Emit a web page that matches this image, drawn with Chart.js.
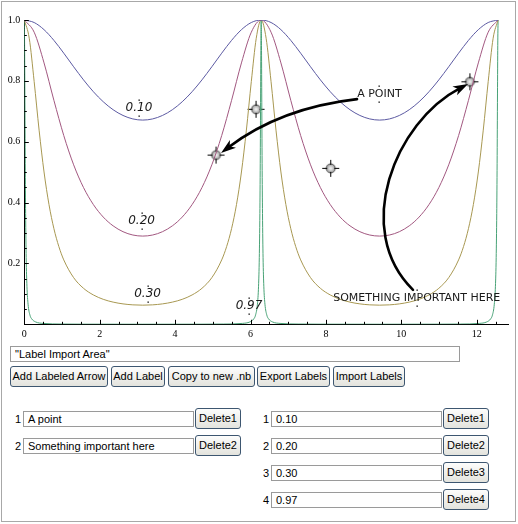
<!DOCTYPE html>
<html>
<head>
<meta charset="utf-8">
<script src="https://cdn.jsdelivr.net/npm/chart.js@4.4.1/dist/chart.umd.min.js"></script>
<style>
body { margin: 0; background: #fff; }
#wrap { position: relative; width: 518px; height: 524px; overflow: hidden; font-family: "Liberation Sans", Arial, sans-serif; font-size: 11px; color: #000; }
#frame { position: absolute; left: 1px; top: 1px; width: 513px; height: 519px; border: 1px solid #a8a8a8; pointer-events: none; }
#plot { position: absolute; left: 0; top: 0; }
.box { position: absolute; box-sizing: border-box; border: 1px solid #9a9a9a; background: #fff; padding-left: 4px; line-height: 14px; white-space: nowrap; overflow: hidden; }
.btn { position: absolute; box-sizing: border-box; border: 1px solid #3d5670; border-radius: 3px; background: linear-gradient(#fdfdfc, #e3e3dd); text-align: center; line-height: 19px; white-space: nowrap; }
.num { position: absolute; width: 10px; text-align: right; line-height: 16px; }
</style>
</head>
<body>
<div id="wrap">
  <canvas id="plot" width="518" height="345"></canvas>
  <div id="ui"></div>
  <div id="frame"></div>
</div>
<script>
// axis ticks
var xTicks = [0, 2, 4, 6, 8, 10, 12];
var yTicks = [0.2, 0.4, 0.6, 0.8, 1.0];

// curves
var curveNames = ['0.10', '0.20', '0.30', '0.97'];
var curveColors = ['rgb(92,90,162)', 'rgb(162,88,128)', 'rgb(168,152,82)', 'rgb(72,162,118)'];

var xSmooth = [0, 0.2618, 0.5236, 0.7854, 1.0472, 1.3090, 1.5708, 1.8326, 2.0944, 2.3562, 2.6180, 2.8798,
  3.1416, 3.4034, 3.6652, 3.9270, 4.1888, 4.4506, 4.7124, 4.9742, 5.2360, 5.4978, 5.7596, 6.0214,
  6.2832, 6.5450, 6.8068, 7.0686, 7.3304, 7.5922, 7.8540, 8.1158, 8.3776, 8.6394, 8.9012, 9.1630,
  9.4248, 9.6866, 9.9484, 10.2102, 10.4720, 10.7338, 10.9956, 11.2574, 11.5192, 11.7810, 12.0428, 12.3046, 12.5664];

var y010 = [1, .9917, .9682, .9330, .8909, .8463, .8032, .7643, .7313, .7051, .6863, .6749,
  .6711, .6749, .6863, .7051, .7313, .7643, .8032, .8463, .8909, .9330, .9682, .9917,
  1, .9917, .9682, .9330, .8909, .8463, .8032, .7643, .7313, .7051, .6863, .6749,
  .6711, .6749, .6863, .7051, .7313, .7643, .8032, .8463, .8909, .9330, .9682, .9917, 1];

var y020 = [1, .9599, .8590, .7359, .6202, .5241, .4494, .3934, .3524, .3235, .3043, .2934,
  .2899, .2934, .3043, .3235, .3524, .3934, .4494, .5241, .6202, .7359, .8590, .9599,
  1, .9599, .8590, .7359, .6202, .5241, .4494, .3934, .3524, .3235, .3043, .2934,
  .2899, .2934, .3043, .3235, .3524, .3934, .4494, .5241, .6202, .7359, .8590, .9599, 1];

var x030 = [0, 0.1309, 0.2618, 0.3927, 0.5236, 0.6545, 0.7854, 0.9163, 1.0472, 1.3090, 1.5708, 1.8326,
  2.0944, 2.3562, 2.6180, 2.8798, 3.1416, 3.4034, 3.6652, 3.9270, 4.1888, 4.4506, 4.7124, 4.9742,
  5.2360, 5.3669, 5.4978, 5.6287, 5.7596, 5.8905, 6.0214, 6.1523, 6.2832,
  6.4141, 6.5450, 6.6759, 6.8068, 6.9377, 7.0686, 7.1995, 7.3304, 7.5922, 7.8540, 8.1158, 8.3776,
  8.6394, 8.9012, 9.1630, 9.4248, 9.6866, 9.9484, 10.2102, 10.4720, 10.7338, 10.9956, 11.2574,
  11.5192, 11.6501, 11.7810, 11.9119, 12.0428, 12.1737, 12.3046, 12.4355, 12.5664];

var y030 = [1, .9401, .7975, .6381, .5005, .3938, .3143, .2554, .2116, .1533, .1183, .0964,
  .0821, .0729, .0671, .0639, .0629, .0639, .0671, .0729, .0821, .0964, .1183, .1533,
  .2116, .2554, .3143, .3938, .5005, .6381, .7975, .9401, 1,
  .9401, .7975, .6381, .5005, .3938, .3143, .2554, .2116, .1533, .1183, .0964, .0821,
  .0729, .0671, .0639, .0629, .0639, .0671, .0729, .0821, .0964, .1183, .1533, .2116,
  .2554, .3143, .3938, .5005, .6381, .7975, .9401, 1];

var x097 = [0, .008, .015, .025, .035, .05, .07, .1, .15, .2, .3, .5, 1.0, 1.5708, 3.1416,
  4.7124, 5.2832, 5.7832, 5.9832, 6.0832, 6.1332, 6.1832, 6.2132, 6.2332, 6.2482, 6.2582, 6.2682, 6.2752,
  6.2832,
  6.2912, 6.2982, 6.3082, 6.3182, 6.3332, 6.3532, 6.3832, 6.4332, 6.4832, 6.5832, 6.7832, 7.2832, 7.8540, 9.4248,
  10.9956, 11.5664, 12.0664, 12.2664, 12.3664, 12.4164, 12.4664, 12.4964, 12.5164, 12.5314, 12.5414, 12.5514, 12.5584, 12.5664];

var y097 = [1, .916, .757, .529, .364, .219, .125, .066, .030, .0173, .0078, .0029, .0008, .0004, .0002,
  .0004, .0008, .0029, .0078, .0173, .030, .066, .125, .219, .364, .529, .757, .916,
  1,
  .916, .757, .529, .364, .219, .125, .066, .030, .0173, .0078, .0029, .0008, .0004, .0002,
  .0004, .0008, .0029, .0078, .0173, .030, .066, .125, .219, .364, .529, .757, .916, 1];

// labels placed on the plot
var noteText = ['0.10', '0.20', '0.30', '0.97', 'A POINT', 'SOMETHING IMPORTANT HERE'];
var noteX = [3.04, 3.11, 3.27, 5.96, 9.42, 10.41];
var noteY = [0.711, 0.340, 0.0996, 0.060, 0.756, 0.0874];

// marked points
var markX = [5.085, 6.146, 8.127, 11.82];
var markY = [0.556, 0.7066, 0.5126, 0.797];

// arrows (bezier control points)
var arrowAX = [8.825, 6.783, 5.218];
var arrowAY = [0.740, 0.711, 0.563];
var arrowBX = [10.31, 8.692, 9.833, 11.77];
var arrowBY = [0.113, 0.310, 0.665, 0.790];

// lists under the plot
var buttonNames = ['Add Labeled Arrow', 'Add Label', 'Copy to new .nb', 'Export Labels', 'Import Labels'];
var arrowNotes = ['A point', 'Something important here'];

function pairs(xs, ys) {
  return xs.map(function(x, i) { return {x: x, y: ys[i]}; });
}

function makeMarker() {
  var c = document.createElement('canvas');
  c.width = 19; c.height = 19;
  var g = c.getContext('2d');
  var grad = g.createRadialGradient(9.5, 9.5, 0.5, 9.5, 9.5, 5);
  grad.addColorStop(0, '#f2f2f2');
  grad.addColorStop(1, '#8e8e8e');
  g.fillStyle = grad;
  g.beginPath(); g.arc(9.5, 9.5, 4.5, 0, Math.PI * 2); g.fill();
  g.strokeStyle = '#4a4a4a'; g.lineWidth = 1; g.stroke();
  g.strokeStyle = '#000';
  g.beginPath();
  g.moveTo(1, 9.5); g.lineTo(6, 9.5); g.moveTo(13, 9.5); g.lineTo(18, 9.5);
  g.moveTo(9.5, 1); g.lineTo(9.5, 6); g.moveTo(9.5, 13); g.lineTo(9.5, 18);
  g.stroke();
  return c;
}

var axisMarks = {
  id: 'axisMarks',
  afterDraw: function(chart) {
    var ctx = chart.ctx, a = chart.chartArea, xs = chart.scales.x, ys = chart.scales.y;
    ctx.save();
    ctx.strokeStyle = '#000';
    ctx.lineWidth = 1;
    ctx.beginPath();
    for (var i = 0; i <= 25; i++) {
      var px = Math.round(xs.getPixelForValue(i * 0.5)) + 0.5;
      var len = (i % 4 === 0) ? 4.5 : 2.5;
      ctx.moveTo(px, a.bottom); ctx.lineTo(px, a.bottom - len);
    }
    for (var j = 1; j <= 20; j++) {
      var py = Math.round(ys.getPixelForValue(j * 0.05)) + 0.5;
      var l2 = (j % 4 === 0) ? 4.5 : 2.5;
      ctx.moveTo(a.left, py); ctx.lineTo(a.left + l2, py);
    }
    ctx.stroke();
    ctx.restore();
  }
};

function drawArrow(ctx, pts) {
  var end = pts[pts.length - 1], prev = pts[pts.length - 2];
  var ang = Math.atan2(end.y - prev.y, end.x - prev.x);
  // stop the shaft under the head
  var stop = {x: end.x - 9 * Math.cos(ang), y: end.y - 9 * Math.sin(ang)};
  ctx.beginPath();
  ctx.moveTo(pts[0].x, pts[0].y);
  if (pts.length === 3) ctx.quadraticCurveTo(pts[1].x, pts[1].y, stop.x, stop.y);
  else ctx.bezierCurveTo(pts[1].x, pts[1].y, pts[2].x, pts[2].y, stop.x, stop.y);
  ctx.stroke();
  ctx.save();
  ctx.translate(end.x, end.y);
  ctx.rotate(ang);
  ctx.beginPath();
  ctx.moveTo(0, 0); ctx.lineTo(-15, -5); ctx.lineTo(-11, 0); ctx.lineTo(-15, 5);
  ctx.closePath();
  ctx.fill();
  ctx.restore();
}

var notes = {
  id: 'notes',
  afterDatasetsDraw: function(chart) {
    var ctx = chart.ctx, xs = chart.scales.x, ys = chart.scales.y;
    function P(x, y) { return {x: xs.getPixelForValue(x), y: ys.getPixelForValue(y)}; }
    ctx.save();
    ctx.strokeStyle = '#000';
    ctx.fillStyle = '#000';
    ctx.lineWidth = 2.6;
    ctx.lineCap = 'round';
    drawArrow(ctx, arrowAX.map(function(x, i) { return P(x, arrowAY[i]); }));
    drawArrow(ctx, arrowBX.map(function(x, i) { return P(x, arrowBY[i]); }));
    ctx.textAlign = 'center';
    ctx.textBaseline = 'middle';
    noteText.forEach(function(t, i) {
      var p = P(noteX[i], noteY[i]);
      ctx.font = (i < 4 ? 'italic 12px' : '11px') + ' "DejaVu Sans"';
      ctx.fillStyle = '#1a1a1a';
      ctx.fillText(t, p.x, p.y);
      ctx.fillStyle = '#000';
      ctx.fillRect(Math.round(p.x) - 0.5, Math.round(p.y) - 8.5, 1.3, 1.3);
      ctx.fillRect(Math.round(p.x) - 0.5, Math.round(p.y) + 7.5, 1.3, 1.3);
    });
    ctx.restore();
  }
};

var series = [pairs(xSmooth, y010), pairs(xSmooth, y020), pairs(x030, y030), pairs(x097, y097)];
var datasets = series.map(function(d, i) {
  return {
    label: curveNames[i], data: d, borderColor: curveColors[i], borderWidth: 1,
    pointRadius: 0, fill: false, cubicInterpolationMode: 'monotone'
  };
});
datasets.push({
  type: 'scatter', label: 'marks', data: pairs(markX, markY), showLine: false,
  pointStyle: makeMarker(), pointRadius: 8
});

var tickFont = {family: '"Liberation Serif", serif', size: 10};

new Chart(document.getElementById('plot'), {
  type: 'line',
  data: {datasets: datasets},
  options: {
    responsive: false,
    animation: false,
    devicePixelRatio: 1,
    layout: {padding: {left: 0, top: 20, right: 10, bottom: 5.7}},
    plugins: {legend: {display: false}, tooltip: {enabled: false}},
    scales: {
      x: {
        type: 'linear', min: 0, max: 12.83,
        afterBuildTicks: function(s) { s.ticks = xTicks.map(function(v) { return {value: v}; }); },
        afterFit: function(s) { s.height = 15; },
        grid: {display: false, drawTicks: false},
        border: {display: true, color: '#000', width: 1},
        ticks: {padding: 4, color: '#000', font: tickFont, maxRotation: 0, autoSkip: false,
          callback: function(v) { return String(v); }}
      },
      y: {
        type: 'linear', min: 0, max: 1,
        afterBuildTicks: function(s) { s.ticks = yTicks.map(function(v) { return {value: v}; }); },
        afterFit: function(s) { s.width = 24.3; },
        grid: {display: false, drawTicks: false},
        border: {display: true, color: '#000', width: 1},
        ticks: {padding: 4, color: '#000', font: tickFont, autoSkip: false,
          callback: function(v) { return v.toFixed(1); }}
      }
    }
  },
  plugins: [axisMarks, notes]
});

// controls below the plot
var ui = document.getElementById('ui');
function add(cls, text, left, top, width, height) {
  var d = document.createElement('div');
  d.className = cls;
  d.textContent = text;
  d.style.left = left + 'px';
  d.style.top = top + 'px';
  if (width) d.style.width = width + 'px';
  if (height) d.style.height = height + 'px';
  ui.appendChild(d);
  return d;
}
add('box', '"Label Import Area"', 10, 346, 450, 16);
var btnLeft = [10, 111, 168, 257, 333];
var btnWidth = [98, 54, 87, 73, 72];
buttonNames.forEach(function(b, i) { add('btn', b, btnLeft[i], 366, btnWidth[i], 21); });

arrowNotes.forEach(function(t, i) {
  var top = 411 + i * 27;
  add('num', String(i + 1), 11, top, 10, 16);
  add('box', t, 23, top, 171, 16);
  add('btn', 'Delete' + (i + 1), 195, top - 3, 46, 21);
});
curveNames.forEach(function(t, i) {
  var top = 411 + i * 27;
  add('num', String(i + 1), 259, top, 10, 16);
  add('box', t, 271, top, 171, 16);
  add('btn', 'Delete' + (i + 1), 443, top - 3, 46, 21);
});
</script>
</body>
</html>
